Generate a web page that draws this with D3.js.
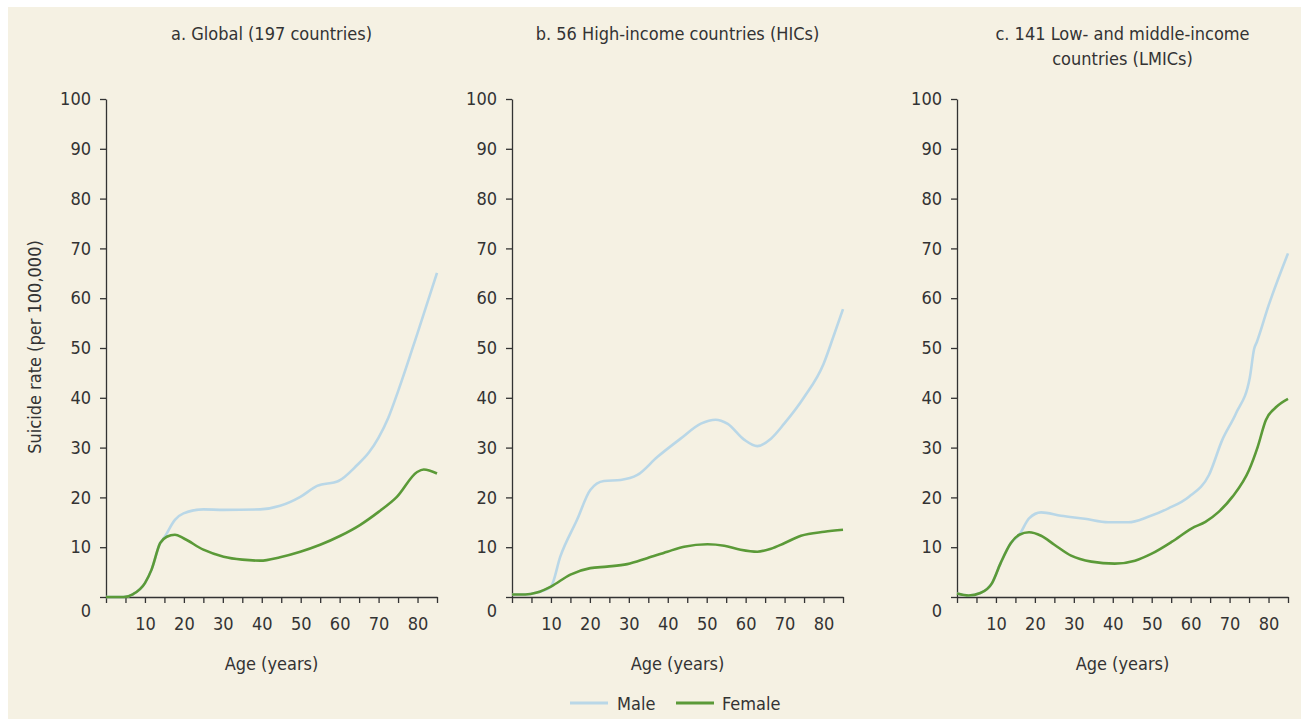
<!DOCTYPE html>
<meta charset="utf-8">
<style>
body { margin: 0; background: #fff; }
svg text { font-family: "Liberation Sans Narrow", "DejaVu Sans Condensed", sans-serif; fill: #333; }
.axis path, .axis line { stroke: #333; stroke-width: 1.3px; }
.line { fill: none; stroke-width: 2.6px; }
</style>
<body>
<script src="https://d3js.org/d3.v7.min.js"></script>
<script>

// panel titles
var titles = [
  ["a. Global (197 countries)"],
  ["b. 56 High-income countries (HICs)"],
  ["c. 141 Low- and middle-income", "countries (LMICs)"]
];

var xTicks = [10, 20, 30, 40, 50, 60, 70, 80];
var yTicks = [0, 10, 20, 30, 40, 50, 60, 70, 80, 90, 100];

// values: [age, rate]
var globalFemale = [[0,0],[4.5,0],[7,0.6],[10,2.8],[11.7,5.5],[13.9,10.8],[15.6,12.1],[17.7,12.5],[19.9,11.8],[25,9.5],[30.2,8.1],[35,7.5],[39.6,7.3],[44.7,8],[49.9,9.1],[55,10.5],[60.2,12.3],[65.3,14.5],[70,17.1],[74.7,20.1],[79.9,25.1],[81.6,25.6],[85,24.8]];
var globalMale = [[0,0],[4.5,0],[7,0.6],[10,2.8],[11.7,5.5],[13.9,10.8],[15,12],[17.7,15.5],[19.9,16.8],[25,17.6],[30.2,17.5],[39.6,17.6],[44.7,18.3],[49.9,20.1],[54.2,22.3],[59.7,23.3],[64.5,26.5],[67.5,29],[70,32],[72.5,36],[75,41.3],[80,53],[85,65.1]];

var hicFemale = [[0,0.5],[3.4,0.5],[6.4,0.9],[10,2.1],[15,4.5],[20.1,5.8],[24.4,6.1],[29.6,6.6],[34.7,7.8],[39.9,9.1],[44.2,10.1],[50.2,10.6],[54.5,10.3],[58.7,9.5],[63,9.1],[66.5,9.7],[69.9,10.8],[74.2,12.3],[80.2,13.1],[85,13.5]];
var hicMale = [[0,0.5],[3.4,0.5],[6.4,0.9],[10,2.1],[12.4,8.1],[16.7,15.5],[20.1,21.5],[23.6,23.3],[27.9,23.5],[32.2,24.5],[37.3,28.1],[43.3,31.8],[48.5,34.8],[52.3,35.6],[55.3,34.8],[59.6,31.6],[63,30.3],[66.5,31.8],[69.9,34.8],[75,40.1],[80,46.8],[82.5,52.2],[85,57.8]];

var lmicFemale = [[0,0.7],[3,0.3],[6,0.8],[9,2.8],[11.2,6.8],[13.8,10.8],[16,12.5],[18.5,13],[21.6,12.3],[25,10.5],[29.3,8.3],[34.5,7.1],[40.5,6.7],[45.7,7.3],[50,8.7],[55.2,11.1],[60.3,13.8],[63.8,15.1],[67.2,17.1],[70.7,20.1],[75,25.5],[77.2,30.1],[79.3,35.5],[81.9,38.1],[85,39.8]];
var lmicMale = [[0,0.7],[3,0.3],[6,0.8],[9,2.8],[11.2,6.8],[13.8,10.8],[16,12.5],[18.5,15.8],[21.6,17],[26.7,16.3],[32.8,15.7],[38.8,15],[44,15],[49.1,16.1],[54.3,17.8],[59.5,20.1],[64.7,24.5],[68.1,31.5],[71.6,36.8],[75.2,44.1],[76.3,49.8],[77,51.2],[80,58.5],[85,69]];

var panels = [
  {male: globalMale, female: globalFemale, left: 106},
  {male: hicMale, female: hicFemale, left: 512},
  {male: lmicMale, female: lmicFemale, left: 957}
];

var maleColor = "#b9d7e7", femaleColor = "#5b9a38";

var width = 331, plotTop = 99, height = 498;

var svg = d3.select("body").append("svg")
    .attr("width", 1301)
    .attr("height", 719);

svg.append("rect")
    .attr("x", 8).attr("y", 7)
    .attr("width", 1293).attr("height", 712)
    .attr("fill", "#f5f1e3");

var x = d3.scaleLinear().domain([0, 85]).range([0, width]);
var y = d3.scaleLinear().domain([0, 100]).range([height, 0]);

var line = d3.line()
    .x(function(d) { return x(d[0]); })
    .y(function(d) { return y(d[1]); })
    .curve(d3.curveMonotoneX);

panels.forEach(function(p, i) {
  var g = svg.append("g").attr("transform", "translate(" + p.left + "," + plotTop + ")");

  // title
  var t = g.append("text")
      .attr("x", width / 2)
      .attr("y", -59)
      .attr("text-anchor", "middle")
      .style("font-size", "18px");
  titles[i].forEach(function(s, k) {
    t.append("tspan").attr("x", width / 2).attr("dy", k ? 25 : 0).text(s);
  });

  // y axis
  var ya = g.append("g")
      .attr("class", "axis")
      .call(d3.axisLeft(y).tickValues(yTicks).tickSize(6).tickSizeOuter(0).tickPadding(9));
  ya.selectAll("text").style("font-size", "18px");
  ya.selectAll(".tick").filter(function(d) { return d === 0; })
      .select("text").attr("dy", "1.1em");

  // x axis
  var xa = g.append("g")
      .attr("class", "axis")
      .attr("transform", "translate(0," + height + ")")
      .call(d3.axisBottom(x).tickValues(d3.range(0, 86, 5)).tickSize(6).tickSizeOuter(0).tickPadding(14)
        .tickFormat(function(d) { return xTicks.indexOf(d) >= 0 ? d : ""; }));
  xa.selectAll("text").style("font-size", "18px");

  g.append("text")
      .attr("x", width / 2)
      .attr("y", height + 73)
      .attr("text-anchor", "middle")
      .style("font-size", "18px")
      .text("Age (years)");

  g.append("path").datum(p.male).attr("class", "line").style("stroke", maleColor).attr("d", line);
  g.append("path").datum(p.female).attr("class", "line").style("stroke", femaleColor).attr("d", line);
});

// y axis title
svg.append("text")
    .attr("transform", "translate(41,347) rotate(-90)")
    .attr("text-anchor", "middle")
    .style("font-size", "18px")
    .text("Suicide rate (per 100,000)");

// legend
svg.append("line").attr("x1", 570).attr("x2", 608).attr("y1", 703).attr("y2", 703)
    .style("stroke", maleColor).style("stroke-width", 3);
svg.append("text").attr("x", 617).attr("y", 703).attr("dominant-baseline", "central")
    .style("font-size", "18px").text("Male");
svg.append("line").attr("x1", 676).attr("x2", 714).attr("y1", 703).attr("y2", 703)
    .style("stroke", femaleColor).style("stroke-width", 3);
svg.append("text").attr("x", 722).attr("y", 703).attr("dominant-baseline", "central")
    .style("font-size", "18px").text("Female");

</script>
</body>
